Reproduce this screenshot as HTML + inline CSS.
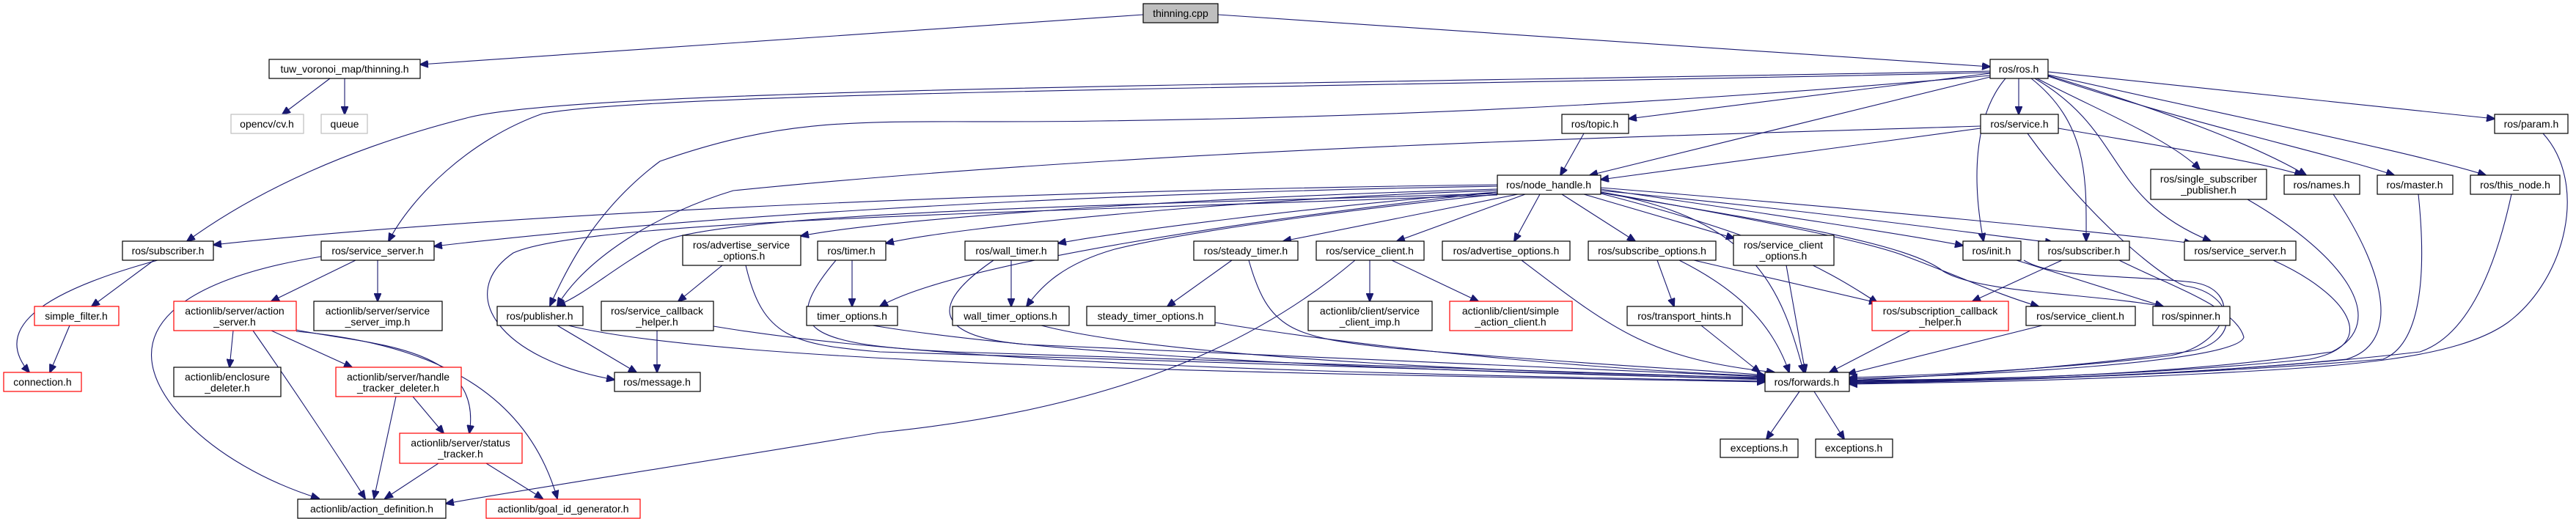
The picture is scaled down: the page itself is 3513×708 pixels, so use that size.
<!DOCTYPE html>
<html><head><meta charset="utf-8"><style>
html,body{margin:0;padding:0;background:#fff;}
svg{display:block}
text{font-family:"Liberation Sans",sans-serif;font-size:14px;fill:#000;text-anchor:middle}
.b{fill:#fff;stroke:#000;stroke-width:1.2}
.r{fill:#fff;stroke:#f00;stroke-width:1.2}
.g{fill:#fff;stroke:#bfbfbf;stroke-width:1.2}
.e path{fill:none;stroke:#191970;stroke-width:1.1;marker-end:url(#a)}
</style></head><body>
<svg width="3513" height="708" viewBox="0 0 3513 708" xmlns="http://www.w3.org/2000/svg">
<defs><marker id="a" markerUnits="userSpaceOnUse" markerWidth="12" markerHeight="10" refX="11" refY="5" orient="auto"><path d="M0,0 L12,5 L0,10 z" fill="#191970" stroke="#191970"/></marker></defs>
<g class="e">
<path d="M1559,20 L573,88"/>
<path d="M1661,20 L2714,91"/>
<path d="M450,107 L385,156"/>
<path d="M470,107 L470,156"/>
<path d="M2753,107 L2753,156"/>
<path d="M2714,100 L2221,162"/>
<path d="M2793,98 L3402,162"/>
<path d="M2778,107 C2860,150 2960,190 3000,231"/>
<path d="M2793,103 C2950,150 3080,200 3145,239"/>
<path d="M2793,104 C2990,170 3180,210 3265,239"/>
<path d="M2793,102 C3050,160 3300,210 3390,239"/>
<path d="M2714,105 L2168,239"/>
<path d="M2735,107 C2690,160 2690,250 2705,329"/>
<path d="M2770,107 C2850,170 2845,250 2845,329"/>
<path d="M2775,107 C2900,180 2870,270 3015,329"/>
<path d="M2714,97 C1800,115 800,120 640,160 C480,200 350,260 255,329"/>
<path d="M2714,99 C1800,120 900,125 740,155 C640,190 560,270 530,329"/>
<path d="M2714,103 C2300,140 1900,160 1500,165 C1200,170 1100,150 900,220 C820,280 780,350 750,417"/>
<path d="M2701,175 L2183,245"/>
<path d="M2807,175 C2950,200 3080,220 3140,239"/>
<path d="M2765,182 C2850,300 2950,380 2980,390 C3050,400 3060,470 2980,480 C2800,505 2600,515 2522,519"/>
<path d="M2701,172 C2300,185 1600,200 1000,260 C900,290 800,350 760,417"/>
<path d="M2160,182 L2128,239"/>
<path d="M2042,252 C1400,260 700,290 291,334"/>
<path d="M2042,254 C1400,265 900,300 592,336"/>
<path d="M2042,258 C1600,270 1200,300 1092,322"/>
<path d="M2042,260 C1700,270 1300,310 1208,332"/>
<path d="M2042,262 C1800,280 1500,320 1443,332"/>
<path d="M2070,265 L1750,329"/>
<path d="M2080,265 L1905,329"/>
<path d="M2100,265 L2065,329"/>
<path d="M2130,265 L2230,329"/>
<path d="M2160,265 L2365,325"/>
<path d="M2183,258 C2400,290 2600,320 2677,335"/>
<path d="M2183,260 C2500,290 2700,320 2800,331"/>
<path d="M2183,256 C2600,290 2900,320 2990,332"/>
<path d="M2042,264 C1500,280 1000,290 900,330 C830,370 800,400 760,417"/>
<path d="M2042,266 C1400,290 800,300 700,345 C620,400 680,490 838,518"/>
<path d="M2042,262 C1700,300 1300,360 1200,418"/>
<path d="M2042,265 C1800,290 1600,320 1520,340 C1450,360 1420,390 1400,418"/>
<path d="M2183,262 C2400,300 2430,400 2460,508"/>
<path d="M2183,263 C2400,300 2600,330 2650,370 C2700,400 2850,400 2950,418"/>
<path d="M2183,262 C2400,300 2550,330 2600,350 C2680,380 2720,400 2780,418"/>
<path d="M2183,264 C2400,320 2480,360 2560,413"/>
<path d="M215,355 C50,400 -10,450 40,508"/>
<path d="M210,355 L125,418"/>
<path d="M95,444 L68,508"/>
<path d="M485,355 L370,411"/>
<path d="M515,355 L515,411"/>
<path d="M438,350 C250,380 150,450 240,560 C290,620 370,660 435,680"/>
<path d="M318,451 L313,501"/>
<path d="M370,451 L480,501"/>
<path d="M345,451 C400,530 460,620 498,680"/>
<path d="M404,450 C500,470 660,470 640,591"/>
<path d="M404,452 C600,470 720,540 760,680"/>
<path d="M540,541 L510,680"/>
<path d="M563,541 L605,591"/>
<path d="M598,632 L525,680"/>
<path d="M663,632 L740,680"/>
<path d="M985,362 L925,411"/>
<path d="M1017,362 C1040,460 1080,470 1200,480 C1800,500 2200,510 2407,518"/>
<path d="M1162,355 L1162,418"/>
<path d="M1140,355 C1060,450 1100,470 1300,480 C1900,500 2200,512 2407,516"/>
<path d="M1379,355 L1379,418"/>
<path d="M1355,355 C1260,420 1280,460 1400,470 C1900,495 2250,508 2407,514"/>
<path d="M1680,355 L1592,418"/>
<path d="M1703,355 C1730,450 1760,460 1900,475 C2200,500 2350,506 2407,512"/>
<path d="M1868,355 L1868,411"/>
<path d="M1898,355 L2016,411"/>
<path d="M1848,355 C1700,480 1500,560 1200,590 C900,640 700,670 608,687"/>
<path d="M2075,355 C2200,450 2250,490 2420,508"/>
<path d="M2260,355 L2283,418"/>
<path d="M2290,355 C2380,400 2420,450 2440,508"/>
<path d="M2310,355 L2560,413"/>
<path d="M2436,362 L2462,508"/>
<path d="M760,444 L868,508"/>
<path d="M775,444 C1000,500 1800,510 2407,521"/>
<path d="M896,451 L896,508"/>
<path d="M973,445 C1300,500 1900,510 2407,520"/>
<path d="M1190,444 C1500,495 2100,510 2407,517"/>
<path d="M1420,444 C1600,490 2100,510 2407,515"/>
<path d="M1657,440 C1900,480 2200,505 2407,513"/>
<path d="M2320,444 L2400,508"/>
<path d="M2750,355 L2950,418"/>
<path d="M2760,355 C2800,380 2900,375 2990,385 C3060,395 3040,470 2960,485 C2800,505 2600,513 2522,515"/>
<path d="M2812,355 L2690,411"/>
<path d="M2890,355 C2960,390 3050,420 3060,460 C3050,495 2700,512 2522,517"/>
<path d="M2605,451 L2495,508"/>
<path d="M2785,444 L2520,510"/>
<path d="M3100,355 C3200,400 3250,470 3150,490 C2900,515 2650,518 2522,519"/>
<path d="M3065,272 C3200,350 3260,440 3180,480 C2950,515 2650,519 2522,520"/>
<path d="M3182,265 C3260,380 3270,470 3200,490 C2950,515 2650,520 2522,521"/>
<path d="M3298,265 C3310,380 3300,470 3250,490 C2950,515 2650,520 2522,522"/>
<path d="M3425,265 C3400,380 3360,460 3300,480 C3000,515 2650,521 2522,523"/>
<path d="M3468,182 C3530,250 3500,380 3420,440 C3350,490 3200,500 3000,510 C2800,520 2650,522 2522,524"/>
<path d="M2454,534 L2409,599"/>
<path d="M2474,534 L2515,599"/>
</g>
<g>
<rect x="1559" y="5" width="102" height="26" fill="#bfbfbf" stroke="#000" stroke-width="1.2"/><text x="1610" y="23">thinning.cpp</text>
<rect class="b" x="367" y="81" width="206" height="26"/><text x="470" y="99">tuw_voronoi_map/thinning.h</text>
<rect class="g" x="315" y="156" width="99" height="26"/><text x="364" y="174">opencv/cv.h</text>
<rect class="g" x="438" y="156" width="63" height="26"/><text x="470" y="174">queue</text>
<rect class="b" x="2714" y="81" width="79" height="26"/><text x="2753" y="99">ros/ros.h</text>
<rect class="b" x="2701" y="156" width="106" height="26"/><text x="2754" y="174">ros/service.h</text>
<rect class="b" x="2130" y="156" width="91" height="26"/><text x="2175" y="174">ros/topic.h</text>
<rect class="b" x="3402" y="156" width="100" height="26"/><text x="3452" y="174">ros/param.h</text>
<rect class="b" x="2042" y="239" width="141" height="26"/><text x="2112" y="257">ros/node_handle.h</text>
<rect class="b" x="2933" y="231" width="158" height="41"/><text x="3012" y="249">ros/single_subscriber</text><text x="3012" y="264">_publisher.h</text>
<rect class="b" x="3115" y="239" width="103" height="26"/><text x="3166" y="257">ros/names.h</text>
<rect class="b" x="3242" y="239" width="103" height="26"/><text x="3293" y="257">ros/master.h</text>
<rect class="b" x="3369" y="239" width="122" height="26"/><text x="3430" y="257">ros/this_node.h</text>
<rect class="b" x="167" y="329" width="124" height="26"/><text x="229" y="347">ros/subscriber.h</text>
<rect class="b" x="438" y="329" width="154" height="26"/><text x="515" y="347">ros/service_server.h</text>
<rect class="b" x="931" y="321" width="161" height="41"/><text x="1011" y="339">ros/advertise_service</text><text x="1011" y="354">_options.h</text>
<rect class="b" x="1115" y="329" width="93" height="26"/><text x="1161" y="347">ros/timer.h</text>
<rect class="b" x="1316" y="329" width="127" height="26"/><text x="1379" y="347">ros/wall_timer.h</text>
<rect class="b" x="1628" y="329" width="142" height="26"/><text x="1699" y="347">ros/steady_timer.h</text>
<rect class="b" x="1795" y="329" width="147" height="26"/><text x="1868" y="347">ros/service_client.h</text>
<rect class="b" x="1967" y="329" width="174" height="26"/><text x="2054" y="347">ros/advertise_options.h</text>
<rect class="b" x="2166" y="329" width="174" height="26"/><text x="2253" y="347">ros/subscribe_options.h</text>
<rect class="b" x="2364" y="321" width="137" height="41"/><text x="2432" y="339">ros/service_client</text><text x="2432" y="354">_options.h</text>
<rect class="b" x="2677" y="329" width="79" height="26"/><text x="2716" y="347">ros/init.h</text>
<rect class="b" x="2780" y="329" width="124" height="26"/><text x="2842" y="347">ros/subscriber.h</text>
<rect class="b" x="2979" y="329" width="152" height="26"/><text x="3055" y="347">ros/service_server.h</text>
<rect class="r" x="47" y="418" width="115" height="26"/><text x="104" y="436">simple_filter.h</text>
<rect class="r" x="237" y="411" width="167" height="40"/><text x="320" y="429">actionlib/server/action</text><text x="320" y="444">_server.h</text>
<rect class="b" x="428" y="411" width="175" height="40"/><text x="515" y="429">actionlib/server/service</text><text x="515" y="444">_server_imp.h</text>
<rect class="b" x="678" y="418" width="117" height="26"/><text x="736" y="436">ros/publisher.h</text>
<rect class="b" x="820" y="411" width="153" height="40"/><text x="896" y="429">ros/service_callback</text><text x="896" y="444">_helper.h</text>
<rect class="b" x="1100" y="418" width="124" height="26"/><text x="1162" y="436">timer_options.h</text>
<rect class="b" x="1299" y="418" width="159" height="26"/><text x="1378" y="436">wall_timer_options.h</text>
<rect class="b" x="1482" y="418" width="175" height="26"/><text x="1569" y="436">steady_timer_options.h</text>
<rect class="b" x="1784" y="411" width="169" height="40"/><text x="1868" y="429">actionlib/client/service</text><text x="1868" y="444">_client_imp.h</text>
<rect class="r" x="1977" y="411" width="167" height="40"/><text x="2060" y="429">actionlib/client/simple</text><text x="2060" y="444">_action_client.h</text>
<rect class="b" x="2219" y="418" width="157" height="26"/><text x="2297" y="436">ros/transport_hints.h</text>
<rect class="r" x="2553" y="411" width="186" height="40"/><text x="2646" y="429">ros/subscription_callback</text><text x="2646" y="444">_helper.h</text>
<rect class="b" x="2763" y="418" width="149" height="26"/><text x="2837" y="436">ros/service_client.h</text>
<rect class="b" x="2936" y="418" width="105" height="26"/><text x="2988" y="436">ros/spinner.h</text>
<rect class="r" x="5" y="508" width="106" height="26"/><text x="58" y="526">connection.h</text>
<rect class="b" x="237" y="501" width="146" height="40"/><text x="310" y="519">actionlib/enclosure</text><text x="310" y="534">_deleter.h</text>
<rect class="r" x="458" y="501" width="171" height="40"/><text x="543" y="519">actionlib/server/handle</text><text x="543" y="534">_tracker_deleter.h</text>
<rect class="b" x="838" y="508" width="117" height="26"/><text x="896" y="526">ros/message.h</text>
<rect class="b" x="2407" y="508" width="115" height="26"/><text x="2464" y="526">ros/forwards.h</text>
<rect class="r" x="545" y="591" width="167" height="41"/><text x="628" y="609">actionlib/server/status</text><text x="628" y="624">_tracker.h</text>
<rect class="b" x="2346" y="599" width="106" height="25"/><text x="2399" y="616">exceptions.h</text>
<rect class="b" x="2476" y="599" width="105" height="25"/><text x="2528" y="616">exceptions.h</text>
<rect class="b" x="406" y="681" width="202" height="26"/><text x="507" y="699">actionlib/action_definition.h</text>
<rect class="r" x="663" y="681" width="210" height="26"/><text x="768" y="699">actionlib/goal_id_generator.h</text>
</g>
</svg>
</body></html>
